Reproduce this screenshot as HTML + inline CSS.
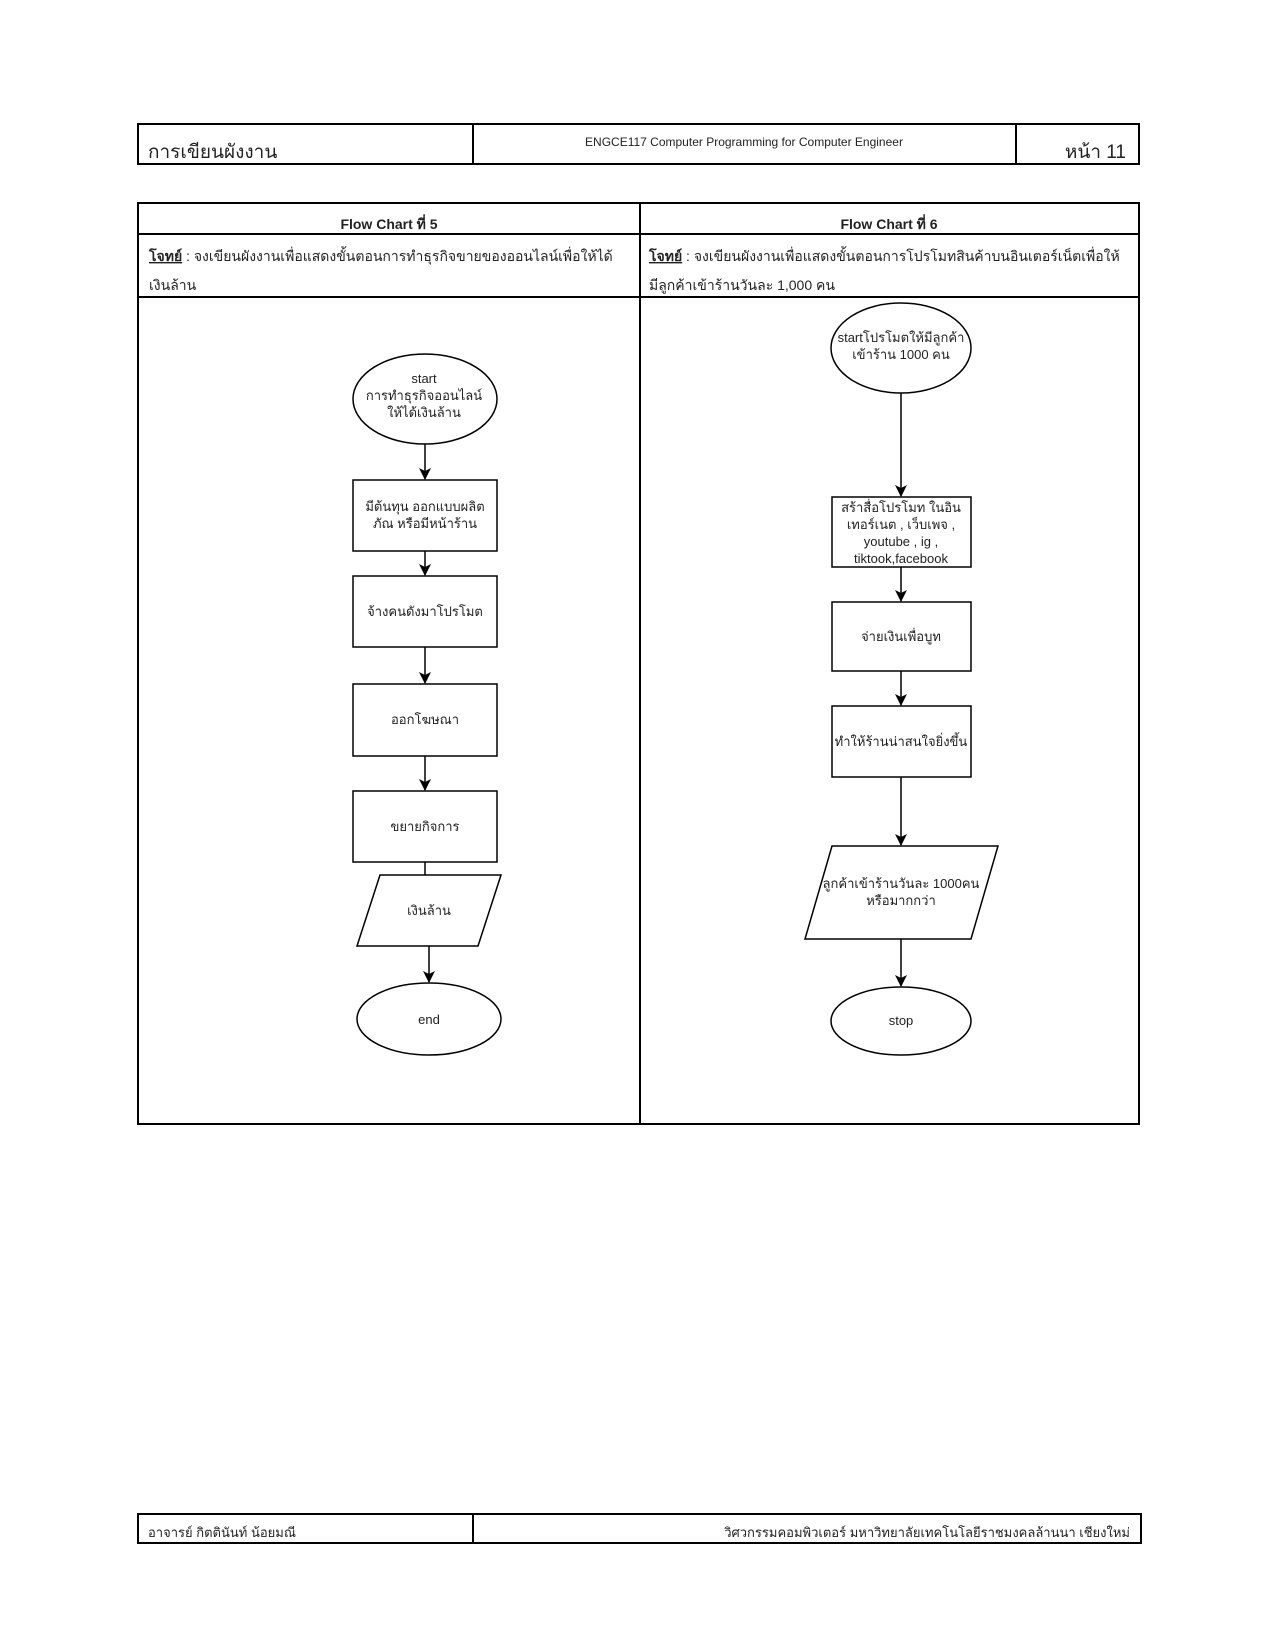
<!DOCTYPE html>
<html><head><meta charset="utf-8"><style>
html,body{margin:0;padding:0;background:#fff;}
svg{display:block;}
text{font-family:"Liberation Sans",sans-serif;fill:#222;}
.t{font-size:13px;}
</style></head><body>
<svg width="1275" height="1650" viewBox="0 0 1275 1650" xmlns="http://www.w3.org/2000/svg">
<defs>
<marker id="ar" markerWidth="14" markerHeight="14" refX="11" refY="6" orient="auto" markerUnits="userSpaceOnUse"><path d="M0,0 L12,6 L0,12 L3,6 Z" fill="#000"/></marker></defs>
<!-- header -->
<g fill="none" stroke="#000" stroke-width="2">
<rect x="138" y="124" width="1001" height="40"/>
<line x1="473" y1="124" x2="473" y2="164"/><line x1="1016" y1="124" x2="1016" y2="164"/>
</g>
<text x="148" y="158" style="font-size:19px">การเขียนผังงาน</text>
<text x="744" y="146" text-anchor="middle" style="font-size:12px">ENGCE117 Computer Programming for Computer Engineer</text>
<text x="1126" y="158" text-anchor="end" style="font-size:19px">หน้า 11</text>
<!-- main table -->
<g fill="none" stroke="#000" stroke-width="2">
<rect x="138" y="203" width="1001" height="921"/>
<line x1="640" y1="203" x2="640" y2="1124"/>
<line x1="138" y1="234" x2="1139" y2="234"/>
<line x1="138" y1="297" x2="1139" y2="297"/>
</g>
<text x="389" y="229" text-anchor="middle" style="font-size:14px;font-weight:bold">Flow Chart ที่ 5</text>
<text x="889" y="229" text-anchor="middle" style="font-size:14px;font-weight:bold">Flow Chart ที่ 6</text>
<text x="149" y="261" style="font-size:14px"><tspan font-weight="bold" text-decoration="underline">โจทย์</tspan>  :  จงเขียนผังงานเพื่อแสดงขั้นตอนการทำธุรกิจขายของออนไลน์เพื่อให้ได้</text>
<text x="149" y="290" style="font-size:14px">เงินล้าน</text>
<text x="649" y="261" style="font-size:14px"><tspan font-weight="bold" text-decoration="underline">โจทย์</tspan> : จงเขียนผังงานเพื่อแสดงขั้นตอนการโปรโมทสินค้าบนอินเตอร์เน็ตเพื่อให้</text>
<text x="649" y="290" style="font-size:14px">มีลูกค้าเข้าร้านวันละ 1,000 คน</text>
<!-- left chart -->
<g fill="#fff" stroke="#000" stroke-width="1.5">
<ellipse cx="425" cy="399" rx="72" ry="45"/>
<rect x="353" y="480" width="144" height="71"/>
<rect x="353" y="576" width="144" height="71"/>
<rect x="353" y="684" width="144" height="72"/>
<rect x="353" y="791" width="144" height="71"/>
<polygon points="380,875 501,875 478,946 357,946"/>
<ellipse cx="429" cy="1019" rx="72" ry="36"/>
</g>
<g stroke="#000" stroke-width="1.5" fill="none">
<line x1="425" y1="444" x2="425" y2="479" marker-end="url(#ar)"/>
<line x1="425" y1="551" x2="425" y2="575" marker-end="url(#ar)"/>
<line x1="425" y1="647" x2="425" y2="683" marker-end="url(#ar)"/>
<line x1="425" y1="756" x2="425" y2="790" marker-end="url(#ar)"/>
<line x1="425" y1="862" x2="425" y2="875"/>
<line x1="429" y1="946" x2="429" y2="982" marker-end="url(#ar)"/>
</g>
<g class="t" text-anchor="middle">
<text x="424" y="383">start</text>
<text x="424" y="400">การทำธุรกิจออนไลน์</text>
<text x="424" y="417">ให้ได้เงินล้าน</text>
<text x="425" y="511">มีต้นทุน ออกแบบผลิต</text>
<text x="425" y="528">ภัณ หรือมีหน้าร้าน</text>
<text x="425" y="616">จ้างคนดังมาโปรโมต</text>
<text x="425" y="724">ออกโฆษณา</text>
<text x="425" y="831">ขยายกิจการ</text>
<text x="429" y="915">เงินล้าน</text>
<text x="429" y="1024">end</text>
</g>
<!-- right chart -->
<g fill="#fff" stroke="#000" stroke-width="1.5">
<ellipse cx="901" cy="348" rx="70" ry="45"/>
<rect x="832" y="497" width="139" height="70"/>
<rect x="832" y="602" width="139" height="69"/>
<rect x="832" y="706" width="139" height="71"/>
<polygon points="832,846 998,846 971,939 805,939"/>
<ellipse cx="901" cy="1021" rx="70" ry="34"/>
</g>
<g stroke="#000" stroke-width="1.5" fill="none">
<line x1="901" y1="393" x2="901" y2="496" marker-end="url(#ar)"/>
<line x1="901" y1="567" x2="901" y2="601" marker-end="url(#ar)"/>
<line x1="901" y1="671" x2="901" y2="705" marker-end="url(#ar)"/>
<line x1="901" y1="777" x2="901" y2="845" marker-end="url(#ar)"/>
<line x1="901" y1="939" x2="901" y2="986" marker-end="url(#ar)"/>
</g>
<g class="t" text-anchor="middle">
<text x="901" y="342">startโปรโมตให้มีลูกค้า</text>
<text x="901" y="359">เข้าร้าน 1000 คน</text>
<text x="901" y="512">สร้าสื่อโปรโมท ในอิน</text>
<text x="901" y="529">เทอร์เนต , เว็บเพจ ,</text>
<text x="901" y="546">youtube , ig ,</text>
<text x="901" y="563">tiktook,facebook</text>
<text x="901" y="641">จ่ายเงินเพื่อบูท</text>
<text x="901" y="746">ทำให้ร้านน่าสนใจยิ่งขึ้น</text>
<text x="901" y="888">ลูกค้าเข้าร้านวันละ 1000คน</text>
<text x="901" y="905">หรือมากกว่า</text>
<text x="901" y="1025">stop</text>
</g>
<!-- footer -->
<g fill="none" stroke="#000" stroke-width="2">
<rect x="138" y="1514" width="1003" height="29"/>
<line x1="473" y1="1514" x2="473" y2="1543"/>
</g>
<text x="148" y="1537" style="font-size:13px">อาจารย์ กิตตินันท์ น้อยมณี</text>
<text x="1130" y="1537" text-anchor="end" style="font-size:13px">วิศวกรรมคอมพิวเตอร์ มหาวิทยาลัยเทคโนโลยีราชมงคลล้านนา เชียงใหม่</text>
</svg>
</body></html>
